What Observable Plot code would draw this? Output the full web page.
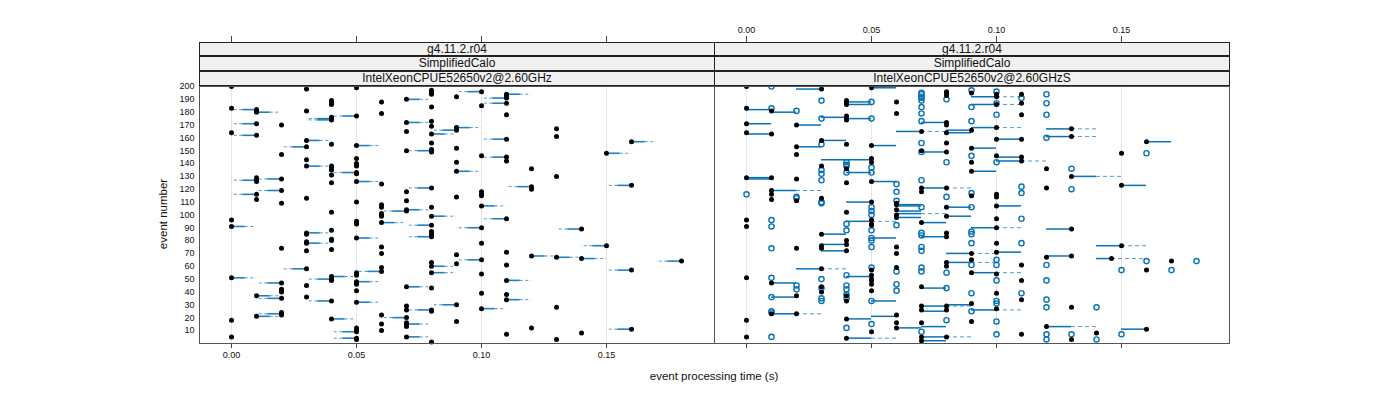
<!DOCTYPE html>
<html><head><meta charset="utf-8">
<script src="https://cdn.jsdelivr.net/npm/d3@7"></script>
<script src="https://cdn.jsdelivr.net/npm/@observablehq/plot@0.6"></script>
<style>
body{margin:0;background:#fff;font-family:"Liberation Sans",Arial,Helvetica,sans-serif;}
#wrap{position:relative;width:1400px;height:400px;overflow:hidden;}
.pl{position:absolute;top:0;}
.strip{position:absolute;height:14.7px;background:#f0f0f0;border:1px solid #222;box-sizing:border-box;text-align:center;font-size:12px;line-height:12.7px;color:#111;z-index:3;}
.frame{position:absolute;border:1px solid #555;box-sizing:border-box;z-index:2;pointer-events:none;}
.lab{position:absolute;font-size:11.5px;color:#111;white-space:nowrap;}
</style></head>
<body><div id="wrap"></div>
<script>
// ---------------- data ----------------
const xTicks = [0, 0.05, 0.10, 0.15];
const yTicks = [10,20,30,40,50,60,70,80,90,100,110,120,130,140,150,160,170,180,190,200];
const panelTitles = ["g4.11.2.r04", "SimplifiedCalo"];
const cpuLeft = "IntelXeonCPUE52650v2@2.60GHz";
const cpuRight = "IntelXeonCPUE52650v2@2.60GHzS";

// left panel: [time, events at that time]
const leftCols = [
  [0.00, [200,183,164,96,91,51,18,5]],
  [0.01, [182,181,180,171,162,129,127,126,116,112,37,21]],
  [0.02, [170,147,128,119,109,74,47,42,41,40,35,24,23,22]],
  [0.03, [198,181,158,153,143,138,113,86,85,79,78,72,58,45,36]],
  [0.04, [189,188,186,176,175,174,155,138,137,135,131,125,102,88,81,80,73,52,50,49,33,19]],
  [0.05, [199,177,154,144,140,138,133,132,126,110,95,94,93,82,55,53,48,46,41,32,12,10,9,4,3]],
  [0.06, [188,179,124,108,106,101,100,99,94,75,70,59,56,22,15,10]],
  [0.07, [190,172,165,150,118,111,104,103,44,29,26,20,16,15,13,5]],
  [0.08, [197,196,195,194,184,173,169,163,156,151,150,149,121,106,99,92,87,85,84,83,63,60,55,43,26,25,1]],
  [0.09, [192,168,166,152,141,134,114,69,62,30,17]],
  [0.10, [196,185,146,118,116,115,107,90,78,65,54,39,27]],
  [0.11, [194,193,191,187,178,159,145,142,97,71,61,49,38,34,7]],
  [0.12, [136,122,120,68,12]],
  [0.13, [167,161,130,67,28,3]],
  [0.14, [89,66,8]],
  [0.15, [148,76]],
  [0.16, [157,123,57,11]],
  [0.18, [64]]
];
// left panel segments: [event, time at dot, far end]
const leftSegs = [
  [182,.01,0],[180,.01,.02],[171,.01,0],[162,.01,0],[127,.01,0],[128,.02,.01],[116,.01,0],[119,.02,.01],
  [153,.03,.02],[175,.04,.03],[174,.04,.03],[177,.05,.04],[158,.03,.04],[138,.03,.04],[133,.05,.04],
  [154,.05,.06],[126,.05,.06],[190,.07,.08],[172,.07,.08],[150,.08,.07],[121,.08,.07],[104,.07,.08],
  [196,.10,.09],[194,.11,.12],[191,.11,.10],[187,.11,.10],[168,.09,.10],[166,.09,.08],[163,.08,.09],
  [157,.16,.17],[148,.15,.16],[159,.11,.10],[145,.11,.10],[134,.09,.10],[122,.12,.11],[123,.16,.15],
  [107,.10,.11],[91,0,.01],[51,0,.01],[37,.01,.02],[21,.01,.02],[47,.02,.01],[35,.02,.01],[23,.02,.01],
  [86,.03,.04],[78,.03,.04],[58,.03,.02],[33,.04,.03],[50,.04,.03],[52,.04,.05],[19,.04,.05],
  [82,.05,.06],[56,.06,.05],[48,.05,.06],[32,.05,.06],[9,.05,.04],[4,.05,.04],[103,.07,.06],[94,.06,.07],
  [92,.08,.07],[20,.07,.06],[15,.07,.08],[44,.07,.08],[5,.07,.08],[99,.08,.09],[83,.08,.07],[60,.08,.09],
  [55,.08,.09],[26,.08,.07],[30,.09,.08],[97,.11,.10],[90,.10,.09],[89,.14,.13],[76,.15,.14],[68,.12,.13],
  [67,.13,.14],[66,.14,.15],[64,.18,.17],[57,.16,.15],[65,.10,.09],[49,.11,.12],[34,.11,.12],[27,.10,.11],
  [11,.16,.15]
];

// right panel: filled (black) points
const rightFilled = [
  [0.00, [200,183,171,164,129,96,91,51,18,5]],
  [0.01, [181,163,129,119,116,112,47,23]],
  [0.02, [170,153,147,128,111,74,37,23]],
  [0.03, [198,158,138,113,85,76,74,58,44,40]],
  [0.04, [189,188,186,177,175,174,155,136,125,102,80,77,72,37,33,19,4]],
  [0.05, [199,154,144,141,126,110,96,93,92,57,53,50,49,46,41,9]],
  [0.06, [188,179,109,108,104,100,98,75,70,59,22,16,12]],
  [0.07, [165,150,121,118,94,44,29,26,16,5,2]],
  [0.08, [196,195,193,172,170,164,156,149,121,106,99,86,83,63,60,29,26,5]],
  [0.09, [195,166,152,141,134,115,70,65,55,31,17]],
  [0.10, [194,192,186,168,159,146,116,114,107,97,90,78,71,54,39,27]],
  [0.11, [194,187,178,159,145,142,61,49,34,7]],
  [0.12, [136,121,67,13]],
  [0.13, [167,161,130,89,68,28,3]],
  [0.14, [8]],
  [0.146, [66]],
  [0.15, [148,123,76]],
  [0.16, [157,57,11]],
  [0.17, [64]]
];
// right panel: open (blue) points
const rightOpen = [
  [0.00, [116]],
  [0.01, [200,183,96,91,74,51,36,25,24,5]],
  [0.02, [181,114,113,45,42]],
  [0.03, [189,175,155,135,132,127,110,109,50,43,35,33]],
  [0.04, [141,139,138,133,93,88,53,45,42,38,35,12]],
  [0.05, [188,175,137,133,106,103,100,88,82,80,75,59,33,15]],
  [0.06, [124,118,111,92,56,46,41]],
  [0.07, [195,194,192,191,189,184,179,173,156,149,127,106,86,84,75,72,59,56,9]],
  [0.08, [190,141,114,55,43,18]],
  [0.09, [197,184,173,146,117,106,87,85,78,61,39,25]],
  [0.10, [196,187,178,141,65,61,49,33,31,17,7]],
  [0.11, [191,122,117,97,78,39]],
  [0.12, [194,187,178,160,61,49,34,28,7,3]],
  [0.13, [136,120,7]],
  [0.14, [28,3]],
  [0.15, [57,7]],
  [0.16, [148,64]],
  [0.17, [57]],
  [0.18, [64]]
];
// right panel segments: [event, start, solid end, dashed end (or null)]
const rightSegs = [
  [198,.02,.03,null],[199,.05,.06,null],[186,.04,.05,null],[182,0,.01,null],[180,.01,.02,null],[171,0,.01,null],
  [163,0,.01,null],[170,.02,.03,null],[176,.03,.04,null],[175,.04,.05,null],[188,.04,.05,null],[172,.07,.08,null],
  [165,.06,.07,.08],[164,.08,.09,null],[153,.02,.03,null],[158,.03,.04,null],[143,.03,.05,null],[133,.04,.05,null],
  [126,.05,.06,null],[154,.05,.06,null],[149,.07,.08,null],[128,0,.01,null],[129,0,.01,null],[119,.01,.02,.03],
  [108,.06,.07,null],[121,.07,.08,.09],[192,.09,.10,.11],[186,.09,.10,.11],[166,.08,.09,null],[168,.09,.10,.11],
  [167,.12,.13,.14],[161,.12,.13,.14],[159,.10,.11,null],[157,.16,.17,null],[152,.09,.10,null],[145,.10,.11,null],
  [142,.10,.11,.12],[134,.09,.10,null],[130,.13,.14,.15],[123,.15,.16,null],[107,.10,.11,null],
  [110,.04,.05,null],[95,.04,.05,.06],[107,.06,.07,null],[103,.06,.07,null],[98,.06,.07,null],[101,.06,.07,.08],
  [94,.07,.08,null],[106,.08,.09,null],[85,.03,.04,null],[77,.03,.04,null],[72,.03,.04,null],[82,.05,.06,null],
  [83,.07,.08,null],[70,.08,.09,.10],[63,.08,.09,null],[58,.02,.03,.04],[52,.04,.05,null],[47,.01,.02,null],
  [36,.01,.02,null],[23,.01,.02,.03],[33,.05,.06,null],[43,.07,.08,null],[19,.04,.05,null],[21,.05,.06,null],
  [13,.07,.08,null],[12,.06,.07,null],[29,.07,.08,.09],[25,.07,.08,null],[5,.07,.08,.09],[4,.04,.05,.06],
  [2,.07,.08,null],[99,.08,.09,null],[90,.09,.10,.11],[89,.12,.13,null],[76,.14,.15,.16],[71,.10,.11,null],
  [68,.12,.13,null],[66,.14,.146,.16],[63,.09,.09,.10],[55,.09,.10,.11],[30,.08,.09,null],[26,.09,.10,.11],
  [13,.12,.13,.14],[11,.15,.16,null]
];

// ---------------- derived tables ----------------
const flat = cols => cols.flatMap(([t, evs]) => evs.map(e => ({t, e})));
const leftPts = flat(leftCols);
const rFilled = flat(rightFilled);
const rOpen = flat(rightOpen);
const lSolid = leftSegs.map(([e, d, f]) => ({e, a: d, b: d + (f - d) * 0.55}));
const lDash = leftSegs.map(([e, d, f]) => ({e, a: d + (f - d) * 0.55, b: f}));
const rSolid = rightSegs.filter(s => s[2] !== s[1]).map(([e, a, b]) => ({e, a, b}));
const rDash = rightSegs.filter(s => s[3] != null).map(([e, a, b, c]) => ({e, a: b, b: c}));

const BLUE = "#0a72b4";
const X_DOMAIN = [-0.0128, 0.1932];
const fmt = d3.format(".2f");

function panel(left) {
  const marks = [
    Plot.gridX(xTicks, {stroke: "#e6e6e6", strokeOpacity: 1}),
    Plot.axisX(xTicks, {anchor: "bottom", tickSize: 5, tickPadding: 3, stroke: "#444",
      tickFormat: left ? fmt : () => "", label: null}),
    Plot.axisX(xTicks, {anchor: "top", tickSize: 7, tickPadding: 3, stroke: "#444",
      tickFormat: left ? () => "" : fmt, label: null})
  ];
  if (left) {
    marks.push(Plot.axisY(yTicks, {anchor: "left", tickSize: 0, tickPadding: 5, label: null}));
    marks.push(
      Plot.ruleY(lDash, {y: "e", x1: "a", x2: "b", stroke: "#4d9bd0", strokeWidth: 1, strokeDasharray: "3,2.5"}),
      Plot.ruleY(lSolid, {y: "e", x1: "a", x2: "b", stroke: BLUE, strokeWidth: 1.6, strokeOpacity: 0.9}),
      Plot.dot(leftPts, {x: "t", y: "e", r: 2.5, fill: "#000", stroke: "none"})
    );
  } else {
    marks.push(
      Plot.ruleY(rDash, {y: "e", x1: "a", x2: "b", stroke: "#4d9bd0", strokeWidth: 1, strokeDasharray: "4,3"}),
      Plot.ruleY(rSolid, {y: "e", x1: "a", x2: "b", stroke: BLUE, strokeWidth: 1.5}),
      Plot.dot(rOpen, {x: "t", y: "e", r: 2.6, fill: "none", stroke: BLUE, strokeWidth: 1.4}),
      Plot.dot(rFilled, {x: "t", y: "e", r: 2.5, fill: "#000", stroke: "none"})
    );
  }
  return Plot.plot({
    width: left ? 714 : 686, height: 400,
    marginLeft: left ? 199 : 0, marginRight: left ? 0 : 171,
    marginTop: 42, marginBottom: 57,
    x: {domain: X_DOMAIN, axis: null},
    y: {domain: [0, 200], range: [342.8, 86], axis: null},
    style: {fontFamily: '"Liberation Sans",Arial,sans-serif', fontSize: "9px", background: "transparent", color: "#111"},
    marks
  });
}

const wrap = document.getElementById("wrap");
function place(el, left) { el.classList.add("pl"); el.style.left = left + "px"; wrap.appendChild(el); }
place(panel(true), 0);
place(panel(false), 714);

function div(cls, css, text) {
  const d = document.createElement("div"); d.className = cls;
  Object.assign(d.style, css); if (text) d.textContent = text; wrap.appendChild(d); return d;
}
[[199, cpuLeft], [714, cpuRight]].forEach(([x, cpu]) => {
  const rows = [panelTitles[0], panelTitles[1], cpu];
  rows.forEach((t, i) => div("strip", {left: x + "px", top: (41.7 + i * 14.7) + "px", width: "516px"}, t));
  div("frame", {left: x + "px", top: "85.5px", width: "516px", height: "258px"});
});
div("lab", {left: "714px", top: "370px", transform: "translateX(-50%)"}, "event processing time (s)");
div("lab", {left: "163px", top: "214px", transform: "translate(-50%,-50%) rotate(-90deg)"}, "event number");
</script></body></html>
